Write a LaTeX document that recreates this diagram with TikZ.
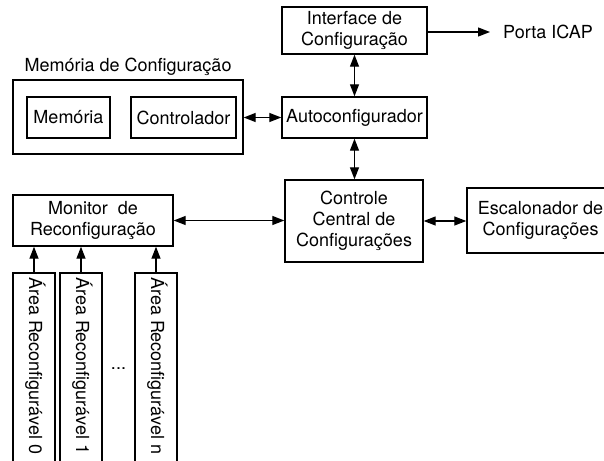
\documentclass[tikz,border=0pt]{standalone}
\usepackage{fontspec}
\setmainfont{TeX Gyre Heros}
\usetikzlibrary{arrows.meta}
\begin{document}
\begin{tikzpicture}[x=1pt,y=-1pt,
  box/.style={draw,line width=1.4pt,inner sep=0pt,align=center,font=\fontsize{18}{21}\selectfont},
  lbl/.style={inner sep=0pt,font=\fontsize{18}{21}\selectfont},
  conn/.style={line width=1.3pt},
  tip/.tip={Triangle[length=12pt,width=9pt]},
  biarrow/.style={conn,tip-tip},
  onearrow/.style={conn,-tip}]
\useasboundingbox (0,0) rectangle (604,460);
% top column
\node[box,minimum width=145pt,minimum height=47pt] (iface) at (354.5,30.5) {Interface de\\Configuração};
\node[box,minimum width=145pt,minimum height=41pt] (auto) at (354.5,117.5) {Autoconfigurador};
\node[lbl,anchor=west] (porta) at (503,32) {Porta ICAP};
\coordinate (portaend) at (490,32);
% configuration memory
\node[box,minimum width=230pt,minimum height=74pt] (memcfg) at (128,117) {};
\node[lbl] (memlabel) at (128,67) {Memória de Configuração};
\node[box,minimum width=83pt,minimum height=41pt] (mem) at (68.5,117.5) {Memória};
\node[box,minimum width=105pt,minimum height=41pt] (ctrl) at (183.5,117.5) {Controlador};
% central
\node[box,minimum width=138pt,minimum height=82pt] (central) at (354,221) {Controle\\Central de\\Configurações};
\node[box,minimum width=150pt,minimum height=65pt] (escal) at (542,220.5) {};
\node[lbl,align=center] (escaltext) at (540.5,220.5) {Escalonador de\\Configurações};
\node[box,minimum width=160pt,minimum height=51pt] (monitor) at (93,220.5) {Monitor~ de\\Reconfiguração};
% areas
\node[box,minimum width=42pt,minimum height=197pt] (area0) at (34,371.5) {};
\node[box,minimum width=42pt,minimum height=197pt] (area1) at (81,371.5) {};
\node[box,minimum width=42pt,minimum height=197pt] (arean) at (156,371.5) {};
\node[lbl,rotate=-90,anchor=west] (t0) at (35.5,277) {Área Reconfigurável 0};
\node[lbl,rotate=-90,anchor=west] (t1) at (82.5,277) {Área Reconfigurável 1};
\node[lbl,rotate=-90,anchor=west] (tn) at (157.5,277) {Área Reconfigurável n};
\node[lbl,anchor=base] (dots) at (118.5,369) {...};
% connectors
\draw[onearrow] (iface.east |- portaend) -- (portaend);
\draw[biarrow] (iface.south) -- (auto.north);
\draw[biarrow] (memcfg.east |- auto) -- (auto.west);
\draw[biarrow] (auto.south) -- (auto.south |- central.north);
\draw[biarrow] (central.east) -- (escal.west |- central.east);
\draw[biarrow] (monitor.east) -- (central.west |- monitor.east);
\draw[onearrow] (area0.north) -- (area0.north |- monitor.south);
\draw[onearrow] (area1.north) -- (area1.north |- monitor.south);
\draw[onearrow] (arean.north) -- (arean.north |- monitor.south);
\end{tikzpicture}
\end{document}
